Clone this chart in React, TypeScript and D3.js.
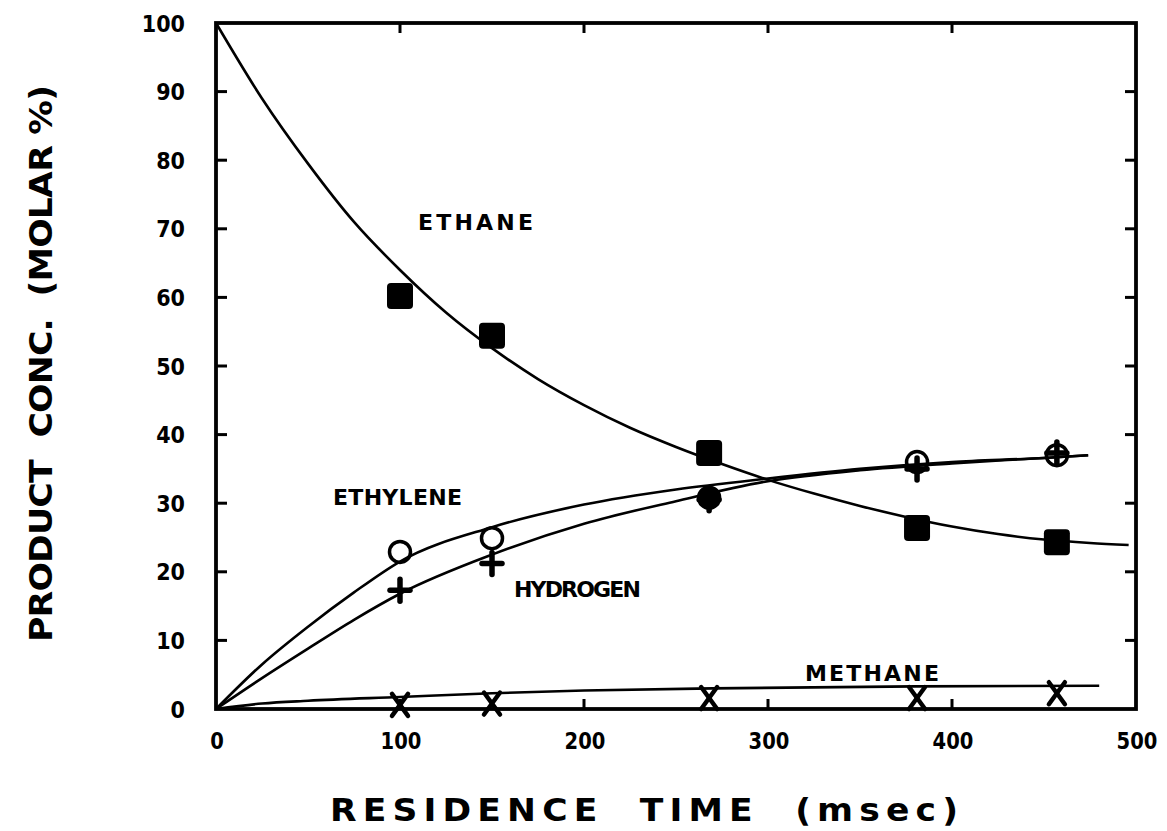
import React from "react";
import * as d3 from "d3";

// Measured samples (residence time in msec, concentration in molar %)
const times = [100, 150, 268, 381, 457];
const ethane = [60.2, 54.4, 37.3, 26.4, 24.3];
const ethylene = [22.9, 24.9, 30.8, 36.0, 37.0];
const hydrogen = [17.3, 21.2, 30.5, 35.0, 37.3];
const methane = [0.6, 0.8, 1.6, 1.6, 2.3];

// Hand-fitted smooth curves through the samples
const ethaneFitT = [0, 25, 50, 75, 100, 125, 150, 175, 200, 225, 250, 275, 300, 325, 350, 375, 400, 425, 450, 475, 496];
const ethaneFitV = [100, 89, 79.5, 71, 64, 57.8, 52.6, 48.1, 44.3, 41, 38.2, 35.7, 33.4, 31.4, 29.6, 28, 26.6, 25.5, 24.7, 24.2, 23.9];
const ethyleneFitT = [0, 25, 50, 75, 100, 150, 200, 250, 300, 350, 400, 450, 474];
const ethyleneFitV = [0, 6.5, 12, 17, 21.5, 26.5, 29.8, 32, 33.6, 35, 36, 36.6, 37];
const hydrogenFitT = [0, 25, 50, 75, 100, 150, 200, 250, 300, 350, 400, 450, 474];
const hydrogenFitV = [0, 4.5, 8.8, 13, 16.8, 22.5, 27, 30.3, 33.2, 34.8, 35.8, 36.6, 37];
const methaneFitT = [0, 25, 50, 100, 150, 200, 270, 380, 480];
const methaneFitV = [0, 0.8, 1.2, 1.75, 2.3, 2.7, 3.0, 3.3, 3.4];

const xTicks = [0, 100, 200, 300, 400, 500];
const yTicks = [0, 10, 20, 30, 40, 50, 60, 70, 80, 90, 100];

const FONT = "'DejaVu Sans', sans-serif";

// Bold text with horizontally scaled glyphs, total span fixed by textLength
function Label(props: {
  x: number;
  y: number;
  text: string;
  size: number;
  span: number;
  squeeze?: number;
  rotate?: number;
}) {
  const s = props.squeeze ?? 1;
  return (
    <text
      transform={`translate(${props.x},${props.y}) rotate(${props.rotate ?? 0}) scale(${s},1)`}
      fontSize={props.size}
      textLength={props.span / s}
      lengthAdjust="spacing"
      xmlSpace="preserve"
    >
      {props.text}
    </text>
  );
}

export default function App() {
  const W = 1167;
  const H = 831;
  const x = d3.scaleLinear().domain([0, 500]).range([216, 1136]);
  const y = d3.scaleLinear().domain([0, 100]).range([709, 23]);

  const line = d3
    .line<[number, number]>()
    .x((d) => x(d[0]))
    .y((d) => y(d[1]))
    .curve(d3.curveMonotoneX);

  const zip = (a: number[], b: number[]) => a.map((v, i) => [v, b[i]] as [number, number]);

  const curves = [
    zip(ethaneFitT, ethaneFitV),
    zip(ethyleneFitT, ethyleneFitV),
    zip(hydrogenFitT, hydrogenFitV),
    zip(methaneFitT, methaneFitV),
  ];

  const x0 = x(0), x1 = x(500), y0 = y(0), y1 = y(100);

  return (
    <svg
      width={W}
      height={H}
      style={{ position: "absolute", left: 0, top: 0, background: "#fff" }}
      fontFamily={FONT}
      fontWeight="bold"
    >
      <rect width={W} height={H} fill="#fff" />

      {/* fitted curves */}
      {curves.map((c, i) => (
        <path key={i} d={line(c) || ""} fill="none" stroke="#000" strokeWidth={2.6} />
      ))}

      {/* frame */}
      <rect x={x0} y={y1} width={x1 - x0} height={y0 - y1} fill="none" stroke="#000" strokeWidth={3.8} />

      {/* y ticks on left and right, pointing inward */}
      {yTicks.slice(1, -1).map((t) => (
        <g key={"yt" + t}>
          <line x1={x0} x2={x0 + 11} y1={y(t)} y2={y(t)} stroke="#000" strokeWidth={3} />
          <line x1={x1} x2={x1 - 11} y1={y(t)} y2={y(t)} stroke="#000" strokeWidth={3} />
        </g>
      ))}
      {/* x ticks on bottom and top, pointing inward */}
      {xTicks.slice(1, -1).map((t) => (
        <g key={"xt" + t}>
          <line x1={x(t)} x2={x(t)} y1={y0} y2={y0 - 10} stroke="#000" strokeWidth={3} />
          <line x1={x(t)} x2={x(t)} y1={y1} y2={y1 + 10} stroke="#000" strokeWidth={3} />
        </g>
      ))}

      {/* tick labels */}
      {yTicks.map((t) => (
        <text
          key={"yl" + t}
          transform={`translate(185,${y(t) + 8.5}) scale(0.9,1)`}
          textAnchor="end"
          fontSize={23}
        >
          {t}
        </text>
      ))}
      {xTicks.map((t) => (
        <text
          key={"xl" + t}
          transform={`translate(${x(t) + 1},749) scale(0.85,1)`}
          textAnchor="middle"
          fontSize={23}
        >
          {t}
        </text>
      ))}

      {/* ethane: filled squares */}
      {times.map((t, i) => (
        <rect
          key={"sq" + i}
          x={x(t) - 13}
          y={y(ethane[i]) - 13}
          width={26}
          height={26}
          rx={4}
          fill="#000"
        />
      ))}

      {/* hydrogen: plus marks */}
      {times.map((t, i) => (
        <g key={"pl" + i} stroke="#000" strokeWidth={5.5} strokeLinecap="round">
          <line x1={x(t) - 10} x2={x(t) + 10} y1={y(hydrogen[i])} y2={y(hydrogen[i])} />
          <line x1={x(t)} x2={x(t)} y1={y(hydrogen[i]) - 11} y2={y(hydrogen[i]) + 11} />
        </g>
      ))}

      {/* ethylene: open circles */}
      {times.map((t, i) => (
        <circle
          key={"ci" + i}
          cx={x(t)}
          cy={y(ethylene[i])}
          r={10.5}
          fill="#000"
          fillOpacity={i === 2 ? 1 : 0}
          stroke="#000"
          strokeWidth={3.5}
        />
      ))}

      {/* methane: x marks */}
      {times.map((t, i) => (
        <g key={"xm" + i} stroke="#000" strokeWidth={4.5} strokeLinecap="round">
          <line x1={x(t) - 8} x2={x(t) + 8} y1={y(methane[i]) - 11} y2={y(methane[i]) + 11} />
          <line x1={x(t) + 8} x2={x(t) - 8} y1={y(methane[i]) - 11} y2={y(methane[i]) + 11} />
        </g>
      ))}

      {/* series labels */}
      <Label x={418} y={230} size={21} span={115} squeeze={1.05} text="ETHANE" />
      <Label x={333} y={505} size={21} span={129} squeeze={1.05} text="ETHYLENE" />
      <Label x={514} y={597} size={21} span={127} squeeze={1.05} text="HYDROGEN" />
      <Label x={805} y={681} size={21} span={134} squeeze={1.05} text="METHANE" />

      {/* axis titles */}
      <Label x={330} y={821} size={32} span={628} squeeze={1.08} text="RESIDENCE  TIME  (msec)" />
      <Label x={52} y={642} size={32} span={557} squeeze={1.08} rotate={-90} text="PRODUCT  CONC.  (MOLAR %)" />
    </svg>
  );
}
